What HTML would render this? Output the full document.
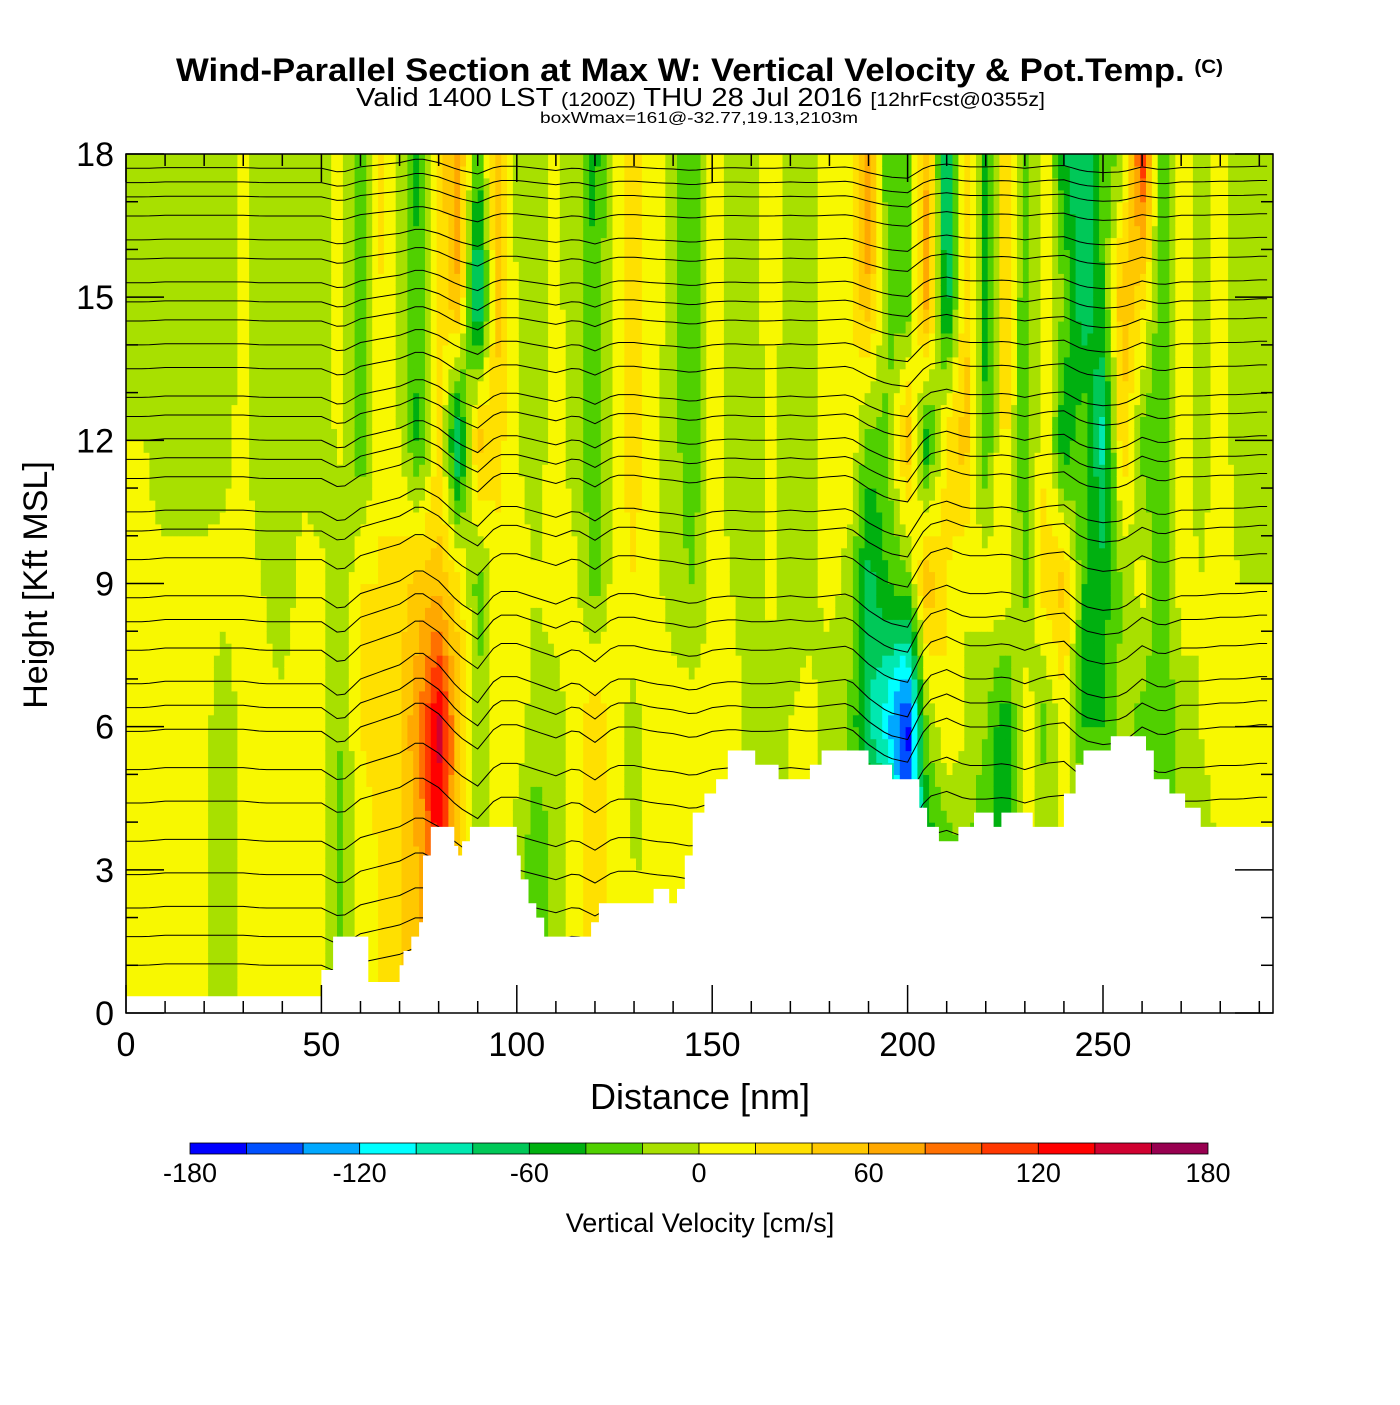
<!DOCTYPE html>
<html><head><meta charset="utf-8"><style>
body{margin:0;background:#fff;width:1400px;height:1400px;overflow:hidden;font-family:"Liberation Sans",sans-serif}
svg text{font-family:"Liberation Sans",sans-serif}
</style></head><body>
<svg id="chart" width="1400" height="1400" xmlns="http://www.w3.org/2000/svg">
<defs><clipPath id="plotclip"><rect x="126" y="154" width="1147" height="859"/></clipPath></defs>
<text x="176" y="81" font-size="32" font-weight="bold" textLength="1047" lengthAdjust="spacingAndGlyphs">Wind-Parallel Section at Max W: Vertical Velocity &amp; Pot.Temp. <tspan font-size="19" dy="-8">(C)</tspan></text>
<text x="356" y="106" font-size="26" textLength="689" lengthAdjust="spacingAndGlyphs">Valid 1400 LST <tspan font-size="19">(1200Z)</tspan> THU 28 Jul 2016 <tspan font-size="19">[12hrFcst@0355z]</tspan></text>
<text x="540" y="123" font-size="16" textLength="318" lengthAdjust="spacingAndGlyphs">boxWmax=161@-32.77,19.13,2103m</text>
<g clip-path="url(#plotclip)">
<g id="field"></g>
<g id="theta"></g>
<g id="terrain"></g>
</g>
<g id="axes"></g>
<text x="700" y="1109" text-anchor="middle" font-size="36">Distance [nm]</text>
<text transform="translate(47,585) rotate(-90)" text-anchor="middle" font-size="34">Height [Kft MSL]</text>
<g id="colorbar"></g>
<text x="700" y="1232" text-anchor="middle" font-size="27">Vertical Velocity [cm/s]</text>
</svg>
<script>
const distances=[0,5,10,15,20,25,30,35,40,45,50,55,60,65,70,75,80,85,90,95,100,105,110,115,120,125,130,135,140,145,150,155,160,165,170,175,180,185,190,195,200,205,210,215,220,225,230,235,240,245,250,255,260,265,270,275,280,285,290];
const heights=[0,3,6,9,12,15,18];
const w0=[5,5,5,5,5,-10,5,5,5,10,10,-30,10,20,40,60,130,40,-20,10,-10,-40,-10,10,40,10,0,0,0,0,0,0,0,0,0,0,0,0,0,0,-150,-60,-40,-20,-40,-60,0,0,0,0,0,0,0,-40,-20,-10,0,0,0];
const w3=[5,5,5,5,5,-10,5,5,5,10,10,-30,10,20,40,60,130,40,-20,10,-10,-40,-10,10,40,10,0,0,0,0,0,0,0,0,0,0,0,0,0,0,-150,-60,-40,-20,-40,-60,0,0,0,0,0,0,0,-40,-20,-10,0,0,0];
const w6=[5,5,5,5,5,-10,5,5,5,10,10,-20,20,30,40,80,150,50,-20,10,10,-10,-10,10,40,10,-10,20,10,10,0,10,-10,-10,0,10,-20,-20,-80,-120,-170,-20,20,0,-20,-60,20,-30,10,-40,-40,-10,-30,-40,-10,0,10,0,10];
const w9=[5,5,5,5,5,5,5,0,-10,5,5,-20,20,20,30,50,50,30,-30,10,10,0,10,5,-30,10,20,5,-10,-20,10,0,-10,5,-10,-10,10,-10,-70,-40,-30,60,20,0,10,20,-30,30,50,-40,-50,-20,10,-40,10,0,10,0,0];
const w12=[0,0,-10,-10,-10,-5,5,-10,-10,-5,-10,5,-40,20,0,-50,30,-90,50,30,0,-10,10,-10,-40,10,30,5,-10,-40,10,-10,-10,5,-10,-10,10,20,-30,-20,60,-60,30,50,-40,30,-40,20,-60,-20,-90,40,-30,-40,10,-10,10,-10,-10];
const w15=[-10,-10,-10,-10,-10,-10,5,-10,-10,-10,-10,10,-40,20,-10,-40,20,60,-100,50,0,-10,5,-10,-40,10,30,10,-10,-40,10,-10,-10,10,-10,-10,10,10,60,-30,-40,80,-80,40,-50,40,-40,20,-20,-80,-40,60,30,-40,10,-10,10,-10,-10];
const w18=[-10,-10,-10,-10,-10,-10,5,-10,-10,-10,-10,10,-40,30,-10,-50,30,70,-40,60,-10,-10,5,-10,-50,10,30,10,-10,-40,10,-10,-10,10,-10,-10,10,10,80,-40,-30,60,-90,40,-50,40,-40,20,-60,-80,-30,-20,120,-40,10,-10,10,-10,-10];
const wRows=[w0,w3,w6,w9,w12,w15,w18];
const terrainDist=[0,50,53,60,62,68,70,71,73,75,76,78,82,84,85,86,88,95,100,101,103,105,107,117,119,121,135,139,141,143,145,148,151,154,161,167,175,178,190,196,203,205,208,213,217,222,224,232,240,243,245,252,261,263,267,271,275,293.5];
const terrainH=[0.35,0.9,1.6,1.6,0.65,0.65,1.0,1.3,1.6,1.9,3.3,3.9,3.9,3.5,3.3,3.6,3.9,3.9,3.3,2.8,2.3,2.0,1.6,1.6,1.9,2.3,2.6,2.3,2.6,3.3,4.2,4.6,4.9,5.5,5.2,4.9,5.2,5.5,5.2,4.9,4.3,3.9,3.6,3.9,4.2,3.9,4.2,3.9,4.6,5.2,5.5,5.8,5.5,4.9,4.6,4.3,3.9,3.9];
const thetaBase=[1.0,1.6,2.2,2.9,3.6,4.4,5.1,5.9,6.4,6.9,7.6,8.2,8.7,9.5,10.1,10.5,11.2,11.6,12.0,12.5,12.9,13.5,14.0,14.5,14.9,15.3,15.8,16.2,16.7,17.1,17.4,17.7];
const thetaDisp=[0,0,0.05,0.05,0.05,0.05,0.05,0,0,0,0,-0.3,0.1,0.25,0.4,0.7,0.4,-0.1,-0.4,0.15,0.15,0,-0.15,0.05,-0.25,0.1,0.1,0,-0.05,-0.15,0,0.05,0,0,0.05,0,0.05,0.1,-0.3,-0.6,-0.7,0.15,0.3,0.1,0.1,0.15,0,0.15,0.2,-0.2,-0.3,-0.25,0.1,-0.1,0.05,0.05,0.1,0.1,0.15];
const cbColors=["#0000ff","#0050ff","#00a8ff","#00ffff","#00e8b0","#00c858","#00b010","#50d000","#a8e000","#f8f800","#ffe000","#ffc800","#ffa800","#ff7000","#ff3800","#ff0000","#d00030","#980050"];
const cbTicks=[-180,-120,-60,0,60,120,180];
const xTicks=[0,50,100,150,200,250];
const yTicks=[0,3,6,9,12,15,18];

const NS="http://www.w3.org/2000/svg";
const X0=126,X1=1273,Y0=1013,Y1=154,DMAX=293.5,HMAX=18;
const xs=d=>X0+(X1-X0)*d/DMAX, ys=h=>Y0-(Y0-Y1)*h/HMAX;
function mk(t,a,p){const e=document.createElementNS(NS,t);for(const k in a)e.setAttribute(k,a[k]);(p||document.getElementById('chart')).appendChild(e);return e;}
function colorFor(v){let i=Math.floor((v+180)/20);i=Math.max(0,Math.min(17,i));return cbColors[i];}
function interp1(arr,xa,x){if(x<=xa[0])return arr[0];for(let i=1;i<xa.length;i++){if(x<=xa[i]){const t=(x-xa[i-1])/(xa[i]-xa[i-1]);return arr[i-1]+(arr[i]-arr[i-1])*t;}}return arr[arr.length-1];}
function wAt(d,h){const r=[];for(let j=0;j<heights.length;j++)r.push(interp1(wRows[j],distances,d));return interp1(r,heights,h);}
const field=document.getElementById('field');
const dd=1.5,dh=0.25;
for(let d=0;d<DMAX;d+=dd){for(let h=0;h<HMAX;h+=dh){
 const v=wAt(d+dd/2,h+dh/2);
 const r=mk('rect',{x:xs(d).toFixed(1),y:ys(h+dh).toFixed(1),width:(xs(d+dd)-xs(d)+0.6).toFixed(1),height:(ys(h)-ys(h+dh)+0.6).toFixed(1),fill:colorFor(v)},field);
 
 
}}
const th=document.getElementById('theta');
thetaBase.forEach((b,k)=>{
 let pts=[];
 for(let d=0;d<=DMAX;d+=2){const f=Math.max(0.3,1-Math.abs(b-7)/14);const h=b+interp1(thetaDisp,distances,d)*f;pts.push(xs(Math.min(d,DMAX)).toFixed(1)+','+ys(Math.min(h,18)).toFixed(1));}
 const l=mk('polyline',{points:pts.join(' '),fill:'none',stroke:'#000','stroke-width':1},th);
 
 
});
let tp='M'+xs(0)+','+ys(0)+' L'+xs(0)+','+ys(terrainH[0]).toFixed(1);
for(let i=1;i<terrainDist.length;i++){
 tp+=' L'+xs(terrainDist[i]).toFixed(1)+','+ys(terrainH[i-1]).toFixed(1)+' L'+xs(terrainDist[i]).toFixed(1)+','+ys(terrainH[i]).toFixed(1);
}
tp+=' L'+(X1+2)+','+ys(terrainH[terrainH.length-1]).toFixed(1)+' L'+(X1+2)+','+ys(0)+' Z';
const tr=mk('path',{d:tp,fill:'#fff'},document.getElementById('terrain'));


const ax=document.getElementById('axes');
mk('rect',{x:X0,y:Y1,width:X1-X0,height:Y0-Y1,fill:'none',stroke:'#000','stroke-width':1.5},ax);
for(let h=0;h<=18;h++){const L=h%3===0?38:12;const y=ys(h);
 mk('line',{x1:X0,y1:y,x2:X0+L,y2:y,stroke:'#000','stroke-width':1.5},ax);
 mk('line',{x1:X1,y1:y,x2:X1-L,y2:y,stroke:'#000','stroke-width':1.5},ax);}
for(let d=0;d<=290;d+=10){const L=d%50===0?28:12;const x=xs(d);
 mk('line',{x1:x,y1:Y0,x2:x,y2:Y0-L,stroke:'#000','stroke-width':1.5},ax);
 mk('line',{x1:x,y1:Y1,x2:x,y2:Y1+L,stroke:'#000','stroke-width':1.5},ax);}
yTicks.forEach(v=>{const t=mk('text',{x:X0-12,y:ys(v)+12,'text-anchor':'end','font-size':34},ax);t.textContent=v;
 
 });
xTicks.forEach(v=>{const t=mk('text',{x:xs(v),y:1056,'text-anchor':'middle','font-size':34},ax);t.textContent=v;
 
 });
const cb=document.getElementById('colorbar');
const CB0=190,CB1=1208,bw=(CB1-CB0)/18;
cbColors.forEach((c,i)=>{const r=mk('rect',{x:CB0+i*bw,y:1143,width:bw,height:11,fill:c,stroke:'#000','stroke-width':0.8},cb);
 
 });
cbTicks.forEach(v=>{const t=mk('text',{x:CB0+(v+180)/360*(CB1-CB0),y:1182,'text-anchor':'middle','font-size':27},cb);t.textContent=v;
 
 });
</script>
</body></html>
